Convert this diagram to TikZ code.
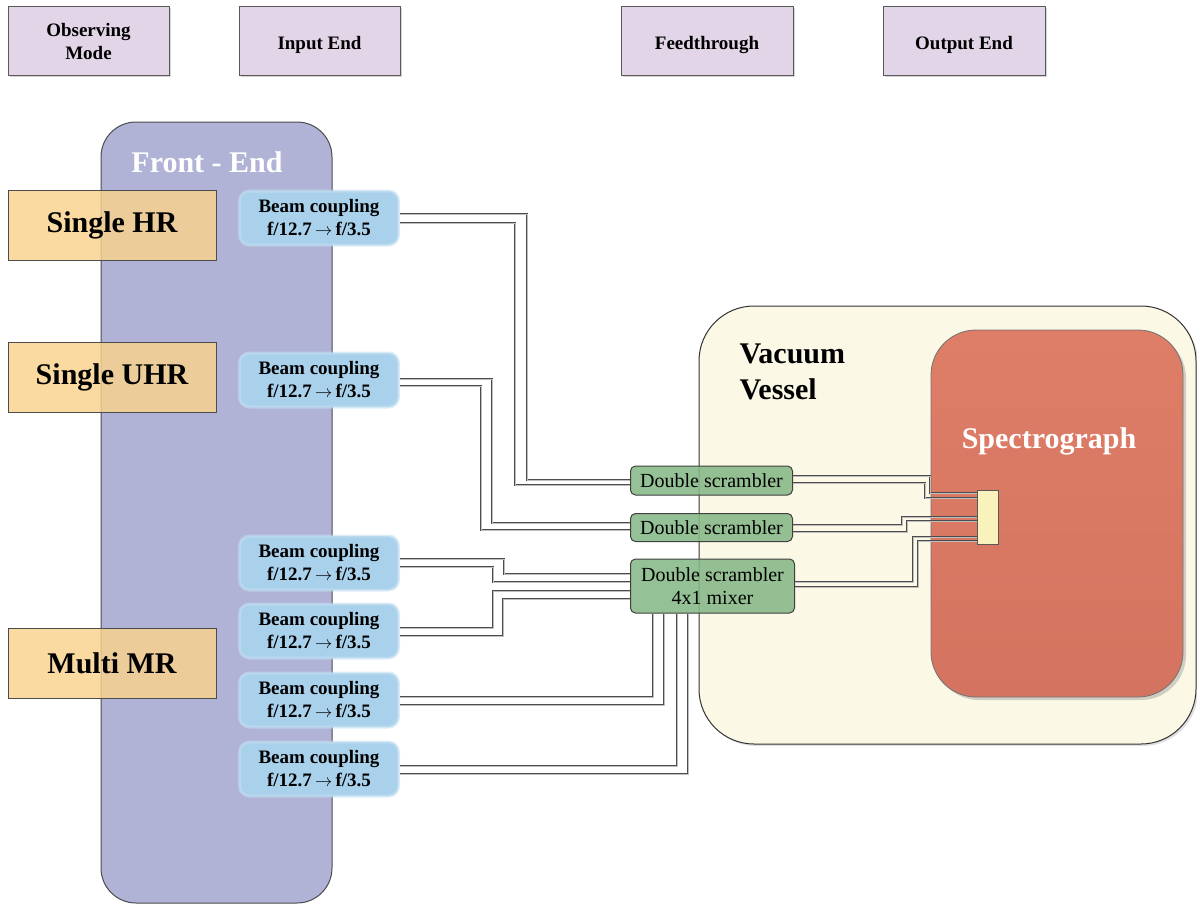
\documentclass[tikz,border=0pt]{standalone}
\usepackage{fontspec}
\setmainfont{Liberation Serif}
\usetikzlibrary{shadows}
\definecolor{hdr}{HTML}{E1D5E7}
\definecolor{fe}{HTML}{B0B3D6}
\definecolor{mode}{HTML}{FAD28C}
\definecolor{bc}{HTML}{A9D1EB}
\definecolor{vv}{HTML}{FCF8E6}
\definecolor{spec}{HTML}{D4735F}
\definecolor{spectop}{HTML}{DE7E67}
\definecolor{blk}{HTML}{F9F2BC}
\definecolor{scr}{HTML}{86B887}
\tikzset{
  hdrbox/.style={draw=black!65, fill=hdr, line width=1pt, minimum width=161pt, minimum height=69pt,
    align=center, font=\fontsize{19}{23}\selectfont\bfseries, inner sep=0pt,
    drop shadow={shadow xshift=1.5pt, shadow yshift=-1.5pt, opacity=0.35}},
  lowtext/.style={text height=16pt, text depth=0pt},
  modebox/.style={draw=black!70, fill=mode, fill opacity=0.82, text opacity=1, line width=1pt,
    minimum width=208pt, minimum height=70pt, font=\fontsize{30}{36}\selectfont\bfseries, inner sep=0pt},
  bcbox/.style={fill=bc, draw=bc!70, draw opacity=0.6, line width=3pt, rounded corners=10pt,
    minimum width=159pt, minimum height=54pt, align=center,
    font=\fontsize{19}{23}\selectfont\bfseries, inner sep=0pt},
  scrbox/.style={draw=black!75, fill=scr, fill opacity=0.88, text opacity=1, line width=1pt,
    rounded corners=5pt, minimum width=162pt, inner sep=0pt,
    font=\fontsize{20}{23}\selectfont, align=center},
  fiber/.style={draw=black!70, line width=0.6pt, double=black!25, double distance=1pt},
}
\newcommand{\bctext}{Beam coupling\\f/12.7\,$\rightarrow$\,f/3.5}
\begin{document}
\begin{tikzpicture}[x=1pt,y=-1pt]
\useasboundingbox (0,0) rectangle (1197,907);

% header boxes
\node[hdrbox] (obs) at (88.5,41.5) {Observing\\Mode};
\node[hdrbox, lowtext] (inp) at (319.5,41.5) {Input End};
\node[hdrbox, lowtext, minimum width=172pt] (fdt) at (707,41.5) {Feedthrough};
\node[hdrbox, lowtext, minimum width=162pt] (out) at (964,41.5) {Output End};

% front end
\node[draw=black!70, fill=fe, rounded corners=35pt, line width=1pt,
      minimum width=231pt, minimum height=781pt, inner sep=0pt] (fe) at (216.5,512.5) {};
\node[text=white, font=\fontsize{30}{36}\selectfont\bfseries] (fet) at (207,162) {Front - End};

% observing modes
\node[modebox] (hr) at (112,225) {Single HR};
\node[modebox] (uhr) at (112,377.5) {Single UHR};
\node[modebox] (mr) at (112,663.5) {Multi MR};

% beam couplings
\node[bcbox] (bc1) at (319,218) {\bctext};
\node[bcbox] (bc2) at (319,380) {\bctext};
\node[bcbox] (bc3) at (319,563) {\bctext};
\node[bcbox] (bc4) at (319,631) {\bctext};
\node[bcbox] (bc5) at (319,700) {\bctext};
\node[bcbox] (bc6) at (319,769) {\bctext};

% vacuum vessel
\node[draw=black!80, fill=vv, rounded corners=55pt, line width=1pt,
      minimum width=497pt, minimum height=438pt, inner sep=0pt,
      drop shadow={shadow xshift=2pt, shadow yshift=-2pt, opacity=0.25}] (vv) at (947.5,525) {};
\node[anchor=north west, align=left, font=\fontsize{30}{36}\selectfont\bfseries] (vvt) at (736,340) {Vacuum\\Vessel};

% spectrograph
\node[draw=black!55, top color=spectop, bottom color=spec, rounded corners=45pt, line width=0.8pt,
      minimum width=252pt, minimum height=367pt, inner sep=0pt,
      drop shadow={shadow xshift=3pt, shadow yshift=-3pt, opacity=0.35}] (sp) at (1057,513.5) {};
\node[text=white, font=\fontsize{30}{36}\selectfont\bfseries] (spt) at (1049,441) {Spectrograph};

% scramblers
\node[scrbox, minimum height=29pt] (scr1) at (711.5,480.5) {Double scrambler};
\node[scrbox, minimum height=28pt] (scr2) at (711.5,527.5) {Double scrambler};
\node[scrbox, minimum width=164pt, minimum height=54pt] (scr3) at (712.5,586) {Double scrambler\\4x1 mixer};

% slit block
\node[draw=black!65, fill=blk, line width=0.8pt, minimum width=21pt, minimum height=54pt, inner sep=0pt] (blk) at (987.5,517) {};

% fibres: beam couplings -> scramblers
\draw[fiber] (bc1.east |- 0,214) -| (527,480) -- (scr1.west |- 0,480);
\draw[fiber] (bc1.east |- 0,223) -| (515,485) -- (scr1.west |- 0,485);
\draw[fiber] (bc2.east |- 0,379) -| (492,523) -- (scr2.west |- 0,523);
\draw[fiber] (bc2.east |- 0,386) -| (481,530) -- (scr2.west |- 0,530);
\draw[fiber] (bc3.east |- 0,559) -| (504,574) -- (scr3.west |- 0,574);
\draw[fiber] (bc3.east |- 0,567) -| (493,582) -- (scr3.west |- 0,582);
\draw[fiber] (bc4.east |- 0,628) -| (493,591) -- (scr3.west |- 0,591);
\draw[fiber] (bc4.east |- 0,636) -| (503,599) -- (scr3.west |- 0,599);
\draw[fiber] (bc5.east |- 0,697) -| (scr3.south -| 653,0);
\draw[fiber] (bc5.east |- 0,705) -| (scr3.south -| 664,0);
\draw[fiber] (bc6.east |- 0,766) -| (scr3.south -| 677,0);
\draw[fiber] (bc6.east |- 0,774) -| (scr3.south -| 688,0);

% fibres: scramblers -> slit
\draw[fiber] (scr1.east |- 0,476) -| (930,493) -- (blk.west |- 0,493);
\draw[fiber] (scr1.east |- 0,483) -| (925,498) -- (blk.west |- 0,498);
\draw[fiber] (scr2.east |- 0,525) -| (902,517) -- (blk.west |- 0,517);
\draw[fiber] (scr2.east |- 0,532) -| (907,521) -- (blk.west |- 0,521);
\draw[fiber] (scr3.east |- 0,582) -| (913,537) -- (blk.west |- 0,537);
\draw[fiber] (scr3.east |- 0,587) -| (918,541) -- (blk.west |- 0,541);
\end{tikzpicture}
\end{document}
